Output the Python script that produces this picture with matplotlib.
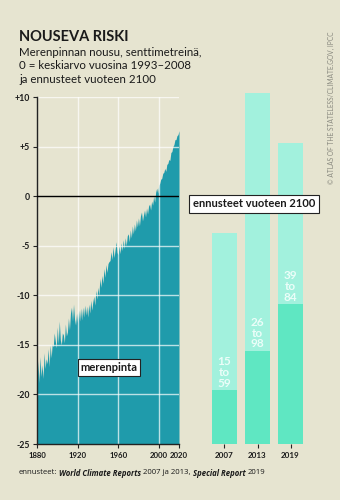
import numpy as np
import matplotlib
matplotlib.use("Agg")
import matplotlib.pyplot as plt

plt.rcParams['font.family'] = ['Lato', 'DejaVu Sans']

# --- Merenpinta 1880-2020 (cm, 0 = keskiarvo 1993-2008), luettu kuvasta ---
vuodet = np.arange(1880, 2021)
merenpinta = [
    -19.8, -16.6, -18.8, -16.2, -18.2, -17.0, -18.4, -15.8, -17.4, -16.4,
    -16.9, -15.4, -17.2, -15.0, -16.3, -14.9, -15.2, -13.8, -14.6, -15.3,
    -13.2, -14.9, -12.6, -14.5, -15.0, -13.8, -14.0, -14.8, -12.9, -14.1,
    -13.7, -12.3, -13.5, -11.8, -11.2, -12.6, -10.9, -12.4, -13.0, -11.8,
    -12.8, -11.5, -12.6, -11.3, -12.5, -11.2, -12.2, -11.0, -12.0, -11.1,
    -12.2, -10.9, -11.8, -10.5, -11.5, -10.7, -10.1, -11.0, -9.5, -10.4,
    -9.2, -10.0, -8.3, -9.2, -8.0, -8.8, -7.3, -8.2, -6.9, -7.7,
    -6.8, -6.6, -6.5, -5.6, -6.4, -5.1, -6.2, -5.4, -4.6, -5.7,
    -5.9, -5.0, -5.8, -4.7, -5.5, -4.4, -5.3, -4.2, -5.0, -4.0,
    -3.8, -4.6, -3.4, -4.2, -3.0, -3.8, -2.8, -3.5, -2.4, -3.1,
    -2.2, -3.0, -2.0, -1.6, -2.5, -1.9, -1.4, -2.1, -1.2, -1.8,
    -1.0, -0.8, -1.4, -0.5, -0.9, 0.0, -0.6, 0.4, 0.8, 0.3,
    1.1, 1.3, 1.7, 1.8, 2.3, 2.4, 2.8, 2.5, 3.2, 3.3,
    3.7, 3.6, 4.4, 4.5, 5.0, 5.2, 5.7, 5.7, 6.1, 6.2,
    6.6,
]

# --- Ennusteet vuoteen 2100 (cm) ---
raportit = ["2007", "2013", "2019"]
ennuste_ala = [15, 26, 39]
ennuste_yla = [59, 98, 84]

y_ticks = [10, 5, 0, -5, -10, -15, -20, -25]
y_labels = ["+10", "+5", "0", "-5", "-10", "-15", "-20", "-25"]
x_ticks = [1880, 1920, 1960, 2000, 2020]

BG = "#e6e4d0"
TEAL = "#1f9bab"
LIGHT = "#a2f1dd"
DARK = "#5fe7c2"
TXT = "#1a1a1a"

W, H = 340, 500
fig = plt.figure(figsize=(W / 100, H / 100), dpi=100)
fig.patch.set_facecolor(BG)


def ax_rect(x0, y0, x1, y1):
    # pikselit (vasen yläkulma) -> figure-koordinaatit
    return [x0 / W, 1 - y1 / H, (x1 - x0) / W, (y1 - y0) / H]


# --- Vasen: merenpinta ---
ax = fig.add_axes(ax_rect(37, 97, 179, 444))
ax.set_facecolor("none")
ax.fill_between(vuodet, merenpinta, -25, color=TEAL, lw=0, zorder=1)
for y in [10, 5, -5, -10, -15, -20]:
    ax.axhline(y, color="white", lw=1.0, alpha=0.7, zorder=2)
for x in [1920, 1960, 2000]:
    ax.axvline(x, color="white", lw=1.0, alpha=0.7, zorder=2)
ax.axhline(0, color="black", lw=1.0, zorder=3)
ax.set_xlim(1880, 2020)
ax.set_ylim(-25, 10)
for s in ["top", "right"]:
    ax.spines[s].set_visible(False)
for s in ["left", "bottom"]:
    ax.spines[s].set_color("#222222")
    ax.spines[s].set_linewidth(1.0)
ax.set_yticks(y_ticks)
ax.set_yticklabels(y_labels)
ax.set_xticks(x_ticks)
ax.set_xticklabels([str(t) for t in x_ticks])
ax.tick_params(axis="both", length=3, width=0.8, color="#222222",
               labelcolor=TXT, pad=2)
ax.tick_params(axis="y", labelsize=6.3)
ax.tick_params(axis="x", labelsize=5.6, pad=3)
for lab in ax.get_xticklabels() + ax.get_yticklabels():
    lab.set_fontweight("bold")

ax.text(1923, -17.3, "merenpinta", ha="left", va="center", fontsize=8,
        fontweight="bold", color=TXT, zorder=5,
        bbox=dict(boxstyle="square,pad=0.25", fc="white", ec="#222222", lw=0.8))

# --- Oikea: ennusteet ---
bx = fig.add_axes(ax_rect(200, 86, 315, 444))
bx.set_facecolor("none")
pos = np.arange(len(raportit))
bx.bar(pos, ennuste_yla, width=0.76, color=LIGHT, lw=0, zorder=1)
bx.bar(pos, ennuste_ala, width=0.76, color=DARK, lw=0, zorder=2)
for p, lo, hi in zip(pos, ennuste_ala, ennuste_yla):
    bx.text(p, lo + 0.5, f"{lo}\nto\n{hi}", ha="center", va="bottom",
            fontsize=8.5, fontweight="bold", color="#f4fffc", alpha=0.9,
            linespacing=0.95, zorder=3)
bx.set_xlim(-0.742, 2.742)
bx.set_ylim(0, 100)
for s in bx.spines.values():
    s.set_visible(False)
bx.set_yticks([])
bx.set_xticks(pos)
bx.set_xticklabels(raportit)
bx.tick_params(axis="x", length=3, width=0.8, color="#222222",
               labelsize=5.8, labelcolor=TXT, pad=3)
for lab in bx.get_xticklabels():
    lab.set_fontweight("bold")

fig.text(254 / W, 1 - 204 / H, "ennusteet vuoteen 2100", ha="center",
         va="center", fontsize=8, fontweight="bold", color=TXT, zorder=10,
         bbox=dict(boxstyle="square,pad=0.3", fc="white", ec="#222222", lw=0.8))

# --- Otsikot ---
fig.text(19 / W, 1 - 37 / H, "NOUSEVA RISKI", ha="left", va="center",
         fontsize=10.5, fontweight="bold", color=TXT)
subs = ["Merenpinnan nousu, senttimetreinä,",
        "0 = keskiarvo vuosina 1993–2008",
        "ja ennusteet vuoteen 2100"]
for i, s in enumerate(subs):
    fig.text(19 / W, 1 - (52 + i * 13.7) / H, s, ha="left", va="center",
             fontsize=8.3, color=TXT)

fig.text(331 / W, 1 - 108 / H, "© ATLAS OF THE STATELESS/CLIMATE.GOV, IPCC",
         rotation=90, ha="center", va="center", fontsize=4.8, color="#8a8a80")

# --- Lähde (sekafontti) ---
osat = [("ennusteet:", "normal", "normal", True),
        ("World Climate Reports", "bold", "italic", True),
        ("2007 ja 2013,", "normal", "normal", True),
        ("Special Report", "bold", "italic", True),
        ("2019", "normal", "normal", False)]
r = fig.canvas.get_renderer()
x = 19
for txt, wgt, sty, vali in osat:
    t = fig.text(x / W, 1 - 473 / H, txt, ha="left", va="center", fontsize=5.6,
                 fontweight=wgt, fontstyle=sty, color=TXT,
                 family=["Open Sans", "DejaVu Sans"])
    x += t.get_window_extent(renderer=r).width + (2.0 if vali else 0)

fig.savefig("out.png", dpi=100, facecolor=BG)
